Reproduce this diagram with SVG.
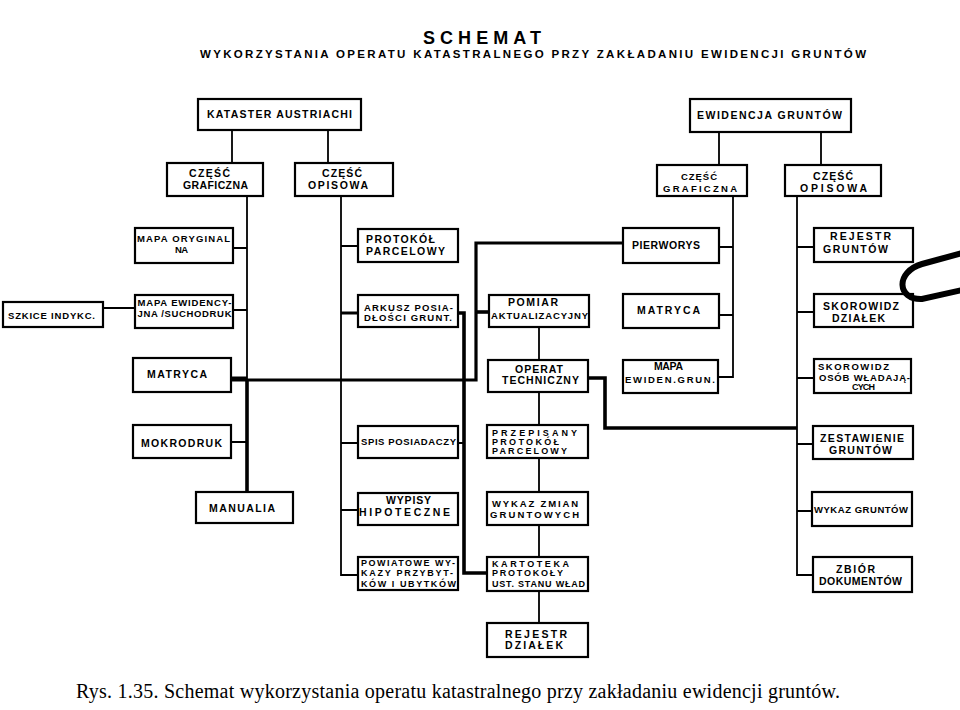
<svg xmlns="http://www.w3.org/2000/svg" width="960" height="710" viewBox="0 0 960 710">
<style>
.b{fill:#fff;stroke:#000;stroke-width:2.2}
.l{stroke:#000;stroke-width:1.8;fill:none}
.k{stroke:#000;stroke-width:3.6;fill:none}
.t{font-family:"Liberation Sans",Arial,sans-serif;font-weight:bold;font-size:10.5px;fill:#000}
.m{text-anchor:middle}
.s{font-size:9px}
.r{font-size:9.5px}
.h1{font-size:18px}
.h2{font-size:11.5px}
</style>
<rect width="960" height="710" fill="#fff"/>
<g id="title">
<text class="t m h1" x="482" y="44" textLength="118">SCHEMAT</text>
<text class="t h2" x="200" y="58" textLength="666">WYKORZYSTANIA OPERATU KATASTRALNEGO PRZY ZAKŁADANIU EWIDENCJI GRUNTÓW</text>
</g>
<g id="connectors">
<path class="l" d="M232,130V163M328,130V163M247,196V380M233,248H247M233,310H247M103,308H135M231,442H247"/>
<path class="l" d="M341,196V575H358M341,246H358M341,443H358M341,510H358M458,443H463"/>
<path class="l" d="M539,327V360M539,392V425M539,458V492M539,525V557M539,591V623"/>
<path class="l" d="M719,132V165M821,132V165M733,196V377H718M719,247H733M719,315H733"/>
<path class="l" d="M797,196V575H814M797,247H814M797,312H814M797,378H814M797,444H814M797,511H814"/>
<path class="k" d="M231,379H247" style="stroke-width:5"/>
<path class="k" d="M247,380V492"/>
<path class="k" d="M247,380H476V243H623" style="stroke-width:3.2"/>
<path class="k" d="M476,312H489"/>
<path class="k" d="M341,313H358" style="stroke-width:3"/>
<path class="k" d="M458,313H464V573H487"/>
<path class="k" d="M588,378H605V428H797"/>
</g>
<g id="n1"><rect class="b" x="198" y="99" width="163" height="31"/><text class="t m" x="279.5" y="118" textLength="145">KATASTER AUSTRIACHI</text></g>
<g id="n2"><rect class="b" x="167" y="163" width="96" height="33"/><text class="t m" x="209.5" y="177" textLength="41">CZĘŚĆ</text><text class="t m" x="215.5" y="189" textLength="65">GRAFICZNA</text></g>
<g id="n3"><rect class="b" x="295" y="163" width="98" height="33"/><text class="t m" x="342" y="177" textLength="40">CZĘŚĆ</text><text class="t m" x="338" y="189" textLength="60">OPISOWA</text></g>
<g id="n4"><rect class="b" x="135" y="228" width="98" height="35"/><text class="t m r" x="183.5" y="242" textLength="93">MAPA ORYGINAL</text><text class="t m r" x="181.5" y="253" textLength="13">NA</text></g>
<g id="n5"><rect class="b" x="135" y="295" width="98" height="33"/><text class="t m r" x="184.5" y="306" textLength="94">MAPA EWIDENCY-</text><text class="t m r" x="184.5" y="317" textLength="94">JNA /SUCHODRUK</text></g>
<g id="n6"><rect class="b" x="3" y="302" width="100" height="25"/><text class="t m r" x="51.5" y="319" textLength="87">SZKICE INDYKC.</text></g>
<g id="n7"><rect class="b" x="133" y="358" width="98" height="34"/><text class="t m" x="177" y="378" textLength="60">MATRYCA</text></g>
<g id="n8"><rect class="b" x="133" y="425" width="98" height="33"/><text class="t m" x="181.5" y="447" textLength="81">MOKRODRUK</text></g>
<g id="n9"><rect class="b" x="196" y="492" width="97" height="31"/><text class="t m" x="242" y="512" textLength="66">MANUALIA</text></g>
<g id="n10"><rect class="b" x="358" y="229" width="100" height="33"/><text class="t" x="366" y="243" textLength="69">PROTOKÓŁ</text><text class="t" x="366" y="255" textLength="79">PARCELOWY</text></g>
<g id="n11"><rect class="b" x="358" y="295" width="100" height="32"/><text class="t r" x="364" y="311" textLength="89">ARKUSZ POSIA-</text><text class="t r" x="364" y="321" textLength="88">DŁOŚCI GRUNT.</text></g>
<g id="n12"><rect class="b" x="358" y="426" width="100" height="32"/><text class="t r" x="361" y="445" textLength="95">SPIS POSIADACZY</text></g>
<g id="n13"><rect class="b" x="358" y="493" width="100" height="32"/><text class="t m" x="408.5" y="504" textLength="45">WYPISY</text><text class="t m" x="404.5" y="516" textLength="91">HIPOTECZNE</text></g>
<g id="n14"><rect class="b" x="358" y="557" width="100" height="33"/><text class="t s" x="361" y="566" textLength="94">POWIATOWE WY-</text><text class="t s" x="361" y="576" textLength="92">KAZY PRZYBYT-</text><text class="t s" x="361" y="587" textLength="95">KÓW I UBYTKÓW</text></g>
<g id="n15"><rect class="b" x="489" y="295" width="100" height="32"/><text class="t m" x="533" y="306" textLength="50">POMIAR</text><text class="t m r" x="539.5" y="319" textLength="97">AKTUALIZACYJNY</text></g>
<g id="n16"><rect class="b" x="488" y="360" width="100" height="32"/><text class="t m" x="539" y="373" textLength="48">OPERAT</text><text class="t m" x="540.5" y="384" textLength="77">TECHNICZNY</text></g>
<g id="n17"><rect class="b" x="487" y="425" width="101" height="33"/><text class="t s" x="492" y="436" textLength="85">PRZEPISANY</text><text class="t s" x="492" y="445" textLength="67">PROTOKÓŁ</text><text class="t s" x="492" y="454" textLength="75">PARCELOWY</text></g>
<g id="n18"><rect class="b" x="487" y="492" width="101" height="33"/><text class="t m r" x="535" y="507" textLength="86">WYKAZ ZMIAN</text><text class="t m r" x="534.5" y="518" textLength="89">GRUNTOWYCH</text></g>
<g id="n19"><rect class="b" x="487" y="557" width="101" height="34"/><text class="t s" x="492" y="567" textLength="77">KARTOTEKA</text><text class="t s" x="492" y="576" textLength="71">PROTOKOŁY</text><text class="t s" x="492" y="587" textLength="93">UST. STANU WŁAD</text></g>
<g id="n20"><rect class="b" x="487" y="623" width="101" height="34"/><text class="t m" x="536" y="638" textLength="62">REJESTR</text><text class="t m" x="534" y="649" textLength="58">DZIAŁEK</text></g>
<g id="n21"><rect class="b" x="690" y="99" width="161" height="33"/><text class="t m" x="769.5" y="119" textLength="145">EWIDENCJA GRUNTÓW</text></g>
<g id="n22"><rect class="b" x="657" y="165" width="90" height="31"/><text class="t m r" x="699" y="180" textLength="36">CZĘŚĆ</text><text class="t m r" x="700" y="192" textLength="74">GRAFICZNA</text></g>
<g id="n23"><rect class="b" x="785" y="165" width="96" height="31"/><text class="t m" x="833" y="180" textLength="40">CZĘŚĆ</text><text class="t m" x="833.5" y="192" textLength="67">OPISOWA</text></g>
<g id="n24"><rect class="b" x="623" y="228" width="96" height="35"/><text class="t m" x="666" y="249" textLength="68">PIERWORYS</text></g>
<g id="n25"><rect class="b" x="623" y="294" width="96" height="34"/><text class="t m" x="668.5" y="314" textLength="63">MATRYCA</text></g>
<g id="n26"><rect class="b" x="623" y="360" width="95" height="33"/><text class="t m" x="668.5" y="370" textLength="29">MAPA</text><text class="t m r" x="670" y="383" textLength="90">EWIDEN.GRUN.</text></g>
<g id="n27"><rect class="b" x="814" y="228" width="99" height="34"/><text class="t m" x="860.5" y="240" textLength="61">REJESTR</text><text class="t m" x="855.5" y="253" textLength="65">GRUNTÓW</text></g>
<g id="n28"><rect class="b" x="814" y="294" width="99" height="33"/><text class="t m" x="861" y="310" textLength="76">SKOROWIDZ</text><text class="t m" x="858.5" y="322" textLength="53">DZIAŁEK</text></g>
<g id="n29"><rect class="b" x="814" y="359" width="97" height="34"/><text class="t m r" x="853.5" y="370" textLength="71">SKOROWIDZ</text><text class="t m r" x="864.5" y="381" textLength="91">OSÓB WŁADAJĄ-</text><text class="t m s" x="863.5" y="390" textLength="23">CYCH</text></g>
<g id="n30"><rect class="b" x="813" y="426" width="100" height="33"/><text class="t m" x="862" y="442" textLength="84">ZESTAWIENIE</text><text class="t m" x="860.5" y="454" textLength="63">GRUNTÓW</text></g>
<g id="n31"><rect class="b" x="812" y="492" width="100" height="34"/><text class="t m r" x="861" y="513" textLength="94">WYKAZ GRUNTÓW</text></g>
<g id="n32"><rect class="b" x="813" y="557" width="99" height="35"/><text class="t m" x="855.5" y="573" textLength="39">ZBIÓR</text><text class="t m" x="860.5" y="585" textLength="83">DOKUMENTÓW</text></g>
<path d="M962,253L922,264C895,272 897,300 922,299L962,290" fill="none" stroke="#000" stroke-width="6"/>
<text x="76" y="698" font-family="'Liberation Serif','Times New Roman',serif" font-size="20" textLength="764" fill="#000">Rys. 1.35. Schemat wykorzystania operatu katastralnego przy zakładaniu ewidencji gruntów.</text>
</svg>
